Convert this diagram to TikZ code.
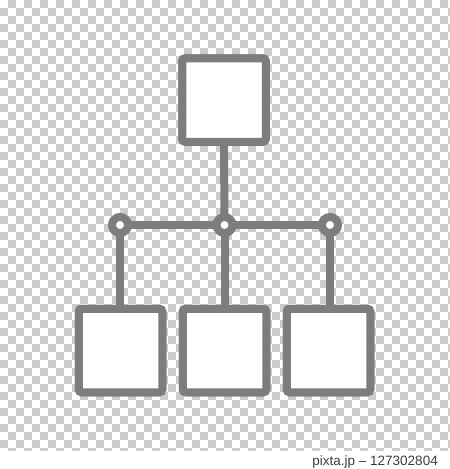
\documentclass[tikz,border=0pt]{standalone}
\usepackage{fontspec}
\setmainfont{Liberation Sans}
\definecolor{linegray}{RGB}{125,125,125}
\definecolor{checkgray}{RGB}{204,204,204}
\definecolor{textgray}{RGB}{60,60,60}
\begin{document}
\begin{tikzpicture}[x=1pt,y=-1pt,
  box/.style={draw=linegray,line width=8pt,fill=white,rounded corners=3pt,
    minimum width=83.5pt,minimum height=83.5pt,inner sep=0pt,outer sep=0pt},
  joint/.style={circle,draw=linegray,line width=8pt,fill=white,
    minimum size=16pt,inner sep=0pt,outer sep=0pt},
  conn/.style={draw=linegray,line width=8pt},
  wm/.style={text=textgray,font=\fontsize{13.5}{16}\selectfont,inner sep=0pt}]
\useasboundingbox (0,0) rectangle (450,469);
% transparent-background checkerboard
\fill[white] (0,0) rectangle (450,469);
\begin{scope}
\clip (0,0) rectangle (450,450);
\foreach \j in {0,...,56}{
  \pgfmathtruncatemacro{\off}{1-mod(\j,2)}
  \foreach \i in {0,...,28}{
    \fill[checkgray] ({(2*\i+\off)*8},{\j*8}) rectangle ++(8,8);
  }
}
\end{scope}
% boxes
\node[box] (top) at (224,100) {};
\node[box] (bl) at (120.5,350.5) {};
\node[box] (bm) at (224.5,350.5) {};
\node[box] (br) at (328.5,350.5) {};
% joints
\coordinate (jl) at (120,225);
\coordinate (jm) at (224.5,225);
\coordinate (jr) at (330,225);
\draw[conn] (jl) -- (jr);
\draw[conn] (top.south) -- (jm);
\draw[conn] (jl) -- (bl.north -| jl);
\draw[conn] (jm) -- (bm.north);
\draw[conn] (jr) -- (br.north -| jr);
\node[box] at (top) {};
\node[box] at (bl) {};
\node[box] at (bm) {};
\node[box] at (br) {};
\node[joint] (cl) at (jl) {};
\node[joint] (cm) at (jm) {};
\node[joint] (cr) at (jr) {};
% watermark caption
\node[wm,anchor=base east] (cap) at (438,465) {pixta.jp – 127302804};
\end{tikzpicture}
\end{document}
